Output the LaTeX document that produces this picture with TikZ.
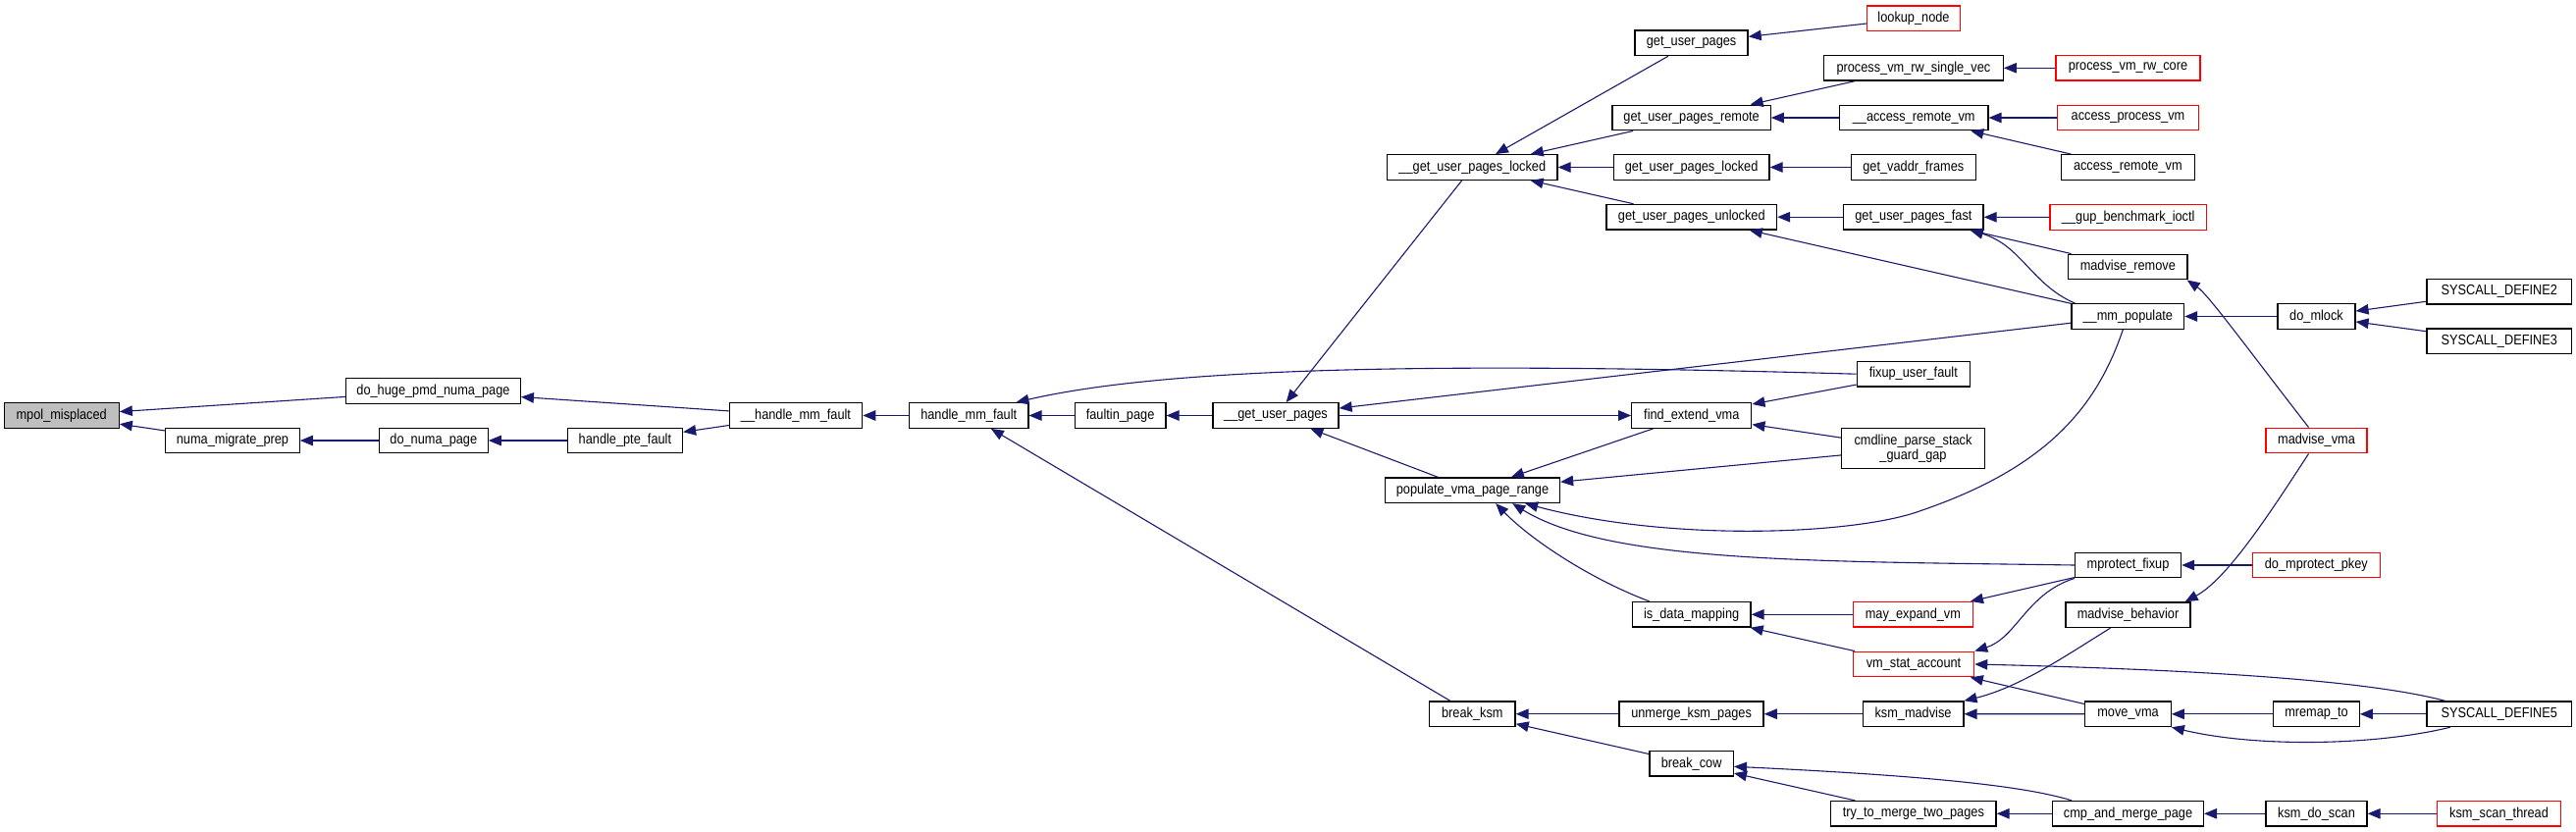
\documentclass[tikz,border=0pt]{standalone}
\usepackage{fontspec}
\setmainfont{Liberation Sans}
\newfontfamily\dxfont[FakeStretch=0.88]{Liberation Sans}
\usetikzlibrary{arrows.meta}
\definecolor{edgecol}{HTML}{191970}
\definecolor{nodegray}{HTML}{BFBFBF}
\begin{document}
\begin{tikzpicture}[x=1pt,y=-1pt,
  fn/.style={draw=black, fill=white, line width=1.3pt, rectangle, inner sep=0pt,
    minimum height=25.6pt, font=\dxfont\fontsize{14.5}{15}\selectfont, text=black},
  fnred/.style={fn, draw=red},
  e/.style={draw=edgecol, line width=1.1pt,
    arrows={Triangle[length=13pt,width=10.5pt,fill=edgecol]-}}
]
\fill[white] (0,0) rectangle (2625,848);
\useasboundingbox (0,0) rectangle (2625,848);

% nodes
\node[fn,minimum width=117pt,fill=nodegray] (mpol) at (62.7,423.5) {mpol\_misplaced};
\node[fn,minimum width=177.6pt] (dohuge) at (441.5,398.5) {do\_huge\_pmd\_numa\_page};
\node[fn,minimum width=136.4pt] (numamig) at (237,449) {numa\_migrate\_prep};
\node[fn,minimum width=110.7pt] (donuma) at (441.8,449) {do\_numa\_page};
\node[fn,minimum width=117.2pt] (hpte) at (636.9,449) {handle\_pte\_fault};
\node[fn,minimum width=135.2pt] (hmmf2) at (811,423.5) {\_\_handle\_mm\_fault};
\node[fn,minimum width=121.3pt] (hmmf) at (987.2,423.5) {handle\_mm\_fault};
\node[fn,minimum width=92.6pt] (faultin) at (1141.6,423.5) {faultin\_page};
\node[fn,minimum width=128pt] (gup2) at (1300,423.5) {\_\_get\_user\_pages};
\node[fn,minimum width=173.4pt] (gupl2) at (1500.3,170.5) {\_\_get\_user\_pages\_locked};
\node[fn,minimum width=178pt] (pvpr) at (1500.5,499.7) {populate\_vma\_page\_range};
\node[fn,minimum width=87.5pt] (breakksm) at (1500.3,727.7) {break\_ksm};
\node[fn,minimum width=115pt] (gup) at (1723.6,43.8) {get\_user\_pages};
\node[fn,minimum width=161.2pt] (gupr) at (1723.6,120) {get\_user\_pages\_remote};
\node[fn,minimum width=158.7pt] (gupl) at (1723.6,170.5) {get\_user\_pages\_locked};
\node[fn,minimum width=173.5pt] (gupu) at (1723.8,221.2) {get\_user\_pages\_unlocked};
\node[fn,minimum width=122pt] (fev) at (1723.8,423.5) {find\_extend\_vma};
\node[fn,minimum width=120.8pt] (idm) at (1723.6,626.3) {is\_data\_mapping};
\node[fn,minimum width=147pt] (ukp) at (1723.6,727.7) {unmerge\_ksm\_pages};
\node[fn,minimum width=85.5pt] (bcow) at (1723.6,778.3) {break\_cow};
\node[fnred,minimum width=94.7pt] (lookup) at (1950,18.7) {lookup\_node};
\node[fn,minimum width=182.8pt] (pvrsv) at (1949.9,69.3) {process\_vm\_rw\_single\_vec};
\node[fn,minimum width=151.3pt] (arvm2) at (1950.2,120) {\_\_access\_remote\_vm};
\node[fn,minimum width=127pt] (gvf) at (1949.8,170.5) {get\_vaddr\_frames};
\node[fn,minimum width=142.3pt] (gupf) at (1949.9,221.2) {get\_user\_pages\_fast};
\node[fn,minimum width=115pt] (fuf) at (1949.8,381.2) {fixup\_user\_fault};
\node[fn,minimum width=145.7pt,minimum height=40.6pt,align=center] (cmdline) at (1949.5,457) {cmdline\_parse\_stack\\\_guard\_gap};
\node[fnred,minimum width=122pt] (mev) at (1949.4,626.3) {may\_expand\_vm};
\node[fnred,minimum width=123.2pt] (vsa) at (1950,677) {vm\_stat\_account};
\node[fn,minimum width=102.7pt] (ksmm) at (1949.5,727.7) {ksm\_madvise};
\node[fn,minimum width=168.3pt] (ttm) at (1949.9,829.3) {try\_to\_merge\_two\_pages};
\node[fnred,minimum width=146.8pt] (pvrc) at (2168.5,69.3) {process\_vm\_rw\_core};
\node[fnred,minimum width=143.4pt] (apvm) at (2168.5,120) {access\_process\_vm};
\node[fn,minimum width=136pt] (arvm) at (2168.3,170.5) {access\_remote\_vm};
\node[fnred,minimum width=159.3pt] (gupbench) at (2168.7,221.5) {\_\_gup\_benchmark\_ioctl};
\node[fn,minimum width=121.4pt] (mrem) at (2168.3,272) {madvise\_remove};
\node[fn,minimum width=114.5pt] (mmpop) at (2168.3,322.5) {\_\_mm\_populate};
\node[fn,minimum width=108pt] (mfix) at (2168.5,576) {mprotect\_fixup};
\node[fn,minimum width=127pt] (mbeh) at (2168.5,626.7) {madvise\_behavior};
\node[fn,minimum width=87.4pt] (movevma) at (2168.5,727.8) {move\_vma};
\node[fn,minimum width=153.7pt] (cmp) at (2168.5,829.3) {cmp\_and\_merge\_page};
\node[fn,minimum width=78.8pt] (domlock) at (2360.5,322.5) {do\_mlock};
\node[fnred,minimum width=103pt] (mvma) at (2360.5,449) {madvise\_vma};
\node[fnred,minimum width=130pt] (dmpk) at (2360.3,576) {do\_mprotect\_pkey};
\node[fn,minimum width=87.4pt] (mremap) at (2360.5,727.8) {mremap\_to};
\node[fn,minimum width=103pt] (ksmds) at (2360.5,829.3) {ksm\_do\_scan};
\node[fn,minimum width=147.3pt] (sc2) at (2546.7,297.2) {SYSCALL\_DEFINE2};
\node[fn,minimum width=147.3pt] (sc3) at (2546.7,347.8) {SYSCALL\_DEFINE3};
\node[fn,minimum width=147.3pt] (sc5) at (2546.7,727.8) {SYSCALL\_DEFINE5};
\node[fnred,minimum width=126pt] (kst) at (2546.5,829.3) {ksm\_scan\_thread};

% straight edges (arrow at callee = first node)
\draw[e] (mpol) -- (dohuge);
\draw[e] (mpol) -- (numamig);
\draw[e] (dohuge) -- (hmmf2);
\draw[e] (numamig) -- (donuma);
\draw[e] (donuma) -- (hpte);
\draw[e] (hpte) -- (hmmf2);
\draw[e] (hmmf2) -- (hmmf);
\draw[e] (hmmf) -- (faultin);
\draw[e] (hmmf) -- (breakksm);
\draw[e] (faultin) -- (gup2);
\draw[e] (gup2) -- (gupl2);
\draw[e] (gup2) -- (pvpr);
\draw[e] (gup2) -- (mmpop);
\draw[e] (fev) -- (gup2);
\draw[e] (gupl2) -- (gup);
\draw[e] (gupl2) -- (gupr);
\draw[e] (gupl2) -- (gupl);
\draw[e] (gupl2) -- (gupu);
\draw[e] (gup) -- (lookup);
\draw[e] (gupr) -- (pvrsv);
\draw[e] (gupr) -- (arvm2);
\draw[e] (gupl) -- (gvf);
\draw[e] (gupu) -- (gupf);
\draw[e] (gupu) -- (mmpop);
\draw[e] (pvrsv) -- (pvrc);
\draw[e] (arvm2) -- (apvm);
\draw[e] (arvm2) -- (arvm);
\draw[e] (gupf) -- (gupbench);
\draw[e] (gupf) -- (mrem);
\draw[e] (mmpop) -- (domlock);
\draw[e] (domlock) -- (sc2);
\draw[e] (domlock) -- (sc3);
\draw[e] (pvpr) -- (fev);
\draw[e] (fev) -- (fuf);
\draw[e] (fev) -- (cmdline);
\draw[e] (pvpr) -- (cmdline);
\draw[e] (idm) -- (mev);
\draw[e] (idm) -- (vsa);
\draw[e] (mev) -- (mfix);
\draw[e] (mfix) -- (dmpk);
\draw[e] (vsa) -- (movevma);
\draw[e] (breakksm) -- (ukp);
\draw[e] (breakksm) -- (bcow);
\draw[e] (ukp) -- (ksmm);
\draw[e] (ksmm) -- (movevma);
\draw[e] (movevma) -- (mremap);
\draw[e] (mremap) -- (sc5);
\draw[e] (bcow) -- (ttm);
\draw[e] (ttm) -- (cmp);
\draw[e] (cmp) -- (ksmds);
\draw[e] (ksmds) -- (kst);

% curved edges
\draw[e] ([xshift=-13pt]hmmf.north east) .. controls (1200,372) and (1500,370) .. (fuf.west);
\draw[e] ([xshift=-1pt]mrem.south east) .. controls (2250,300) and (2290,355) .. ([xshift=-8pt]mvma.north);
\draw[e] ([xshift=-6pt]mbeh.north east) .. controls (2270,590) and (2315,520) .. ([xshift=-8pt]mvma.south);
\draw[e] ([xshift=-14pt]gupf.south east) .. controls (2060,250) and (2070,290) .. ([xshift=4pt]mmpop.north west);
\draw[e] ([xshift=-36pt]pvpr.south east) .. controls (1700,552) and (1880,545) .. (1950,523)
   .. controls (2080,480) and (2135,420) .. ([xshift=-5pt]mmpop.south);
\draw[e] ([xshift=-49pt]pvpr.south east) .. controls (1640,574) and (1850,572) .. (mfix.west);
\draw[e] ([xshift=-66pt]pvpr.south east) .. controls (1560,550) and (1620,590) .. ([xshift=-43pt]idm.north);
\draw[e] (vsa.north east) .. controls (2055,650) and (2065,605) .. (mfix.south west);
\draw[e] (vsa.east) .. controls (2300,684) and (2430,698) .. ([xshift=-55pt]sc5.north);
\draw[e] (ksmm.north east) .. controls (2060,700) and (2110,665) .. ([xshift=-18pt]mbeh.south);
\draw[e] (movevma.south east) .. controls (2300,762) and (2420,760) .. ([xshift=-50pt]sc5.south);
\draw[e] ([yshift=-3pt]bcow.east) .. controls (1950,790) and (2060,800) .. ([xshift=20pt]cmp.north west);
\end{tikzpicture}
\end{document}
